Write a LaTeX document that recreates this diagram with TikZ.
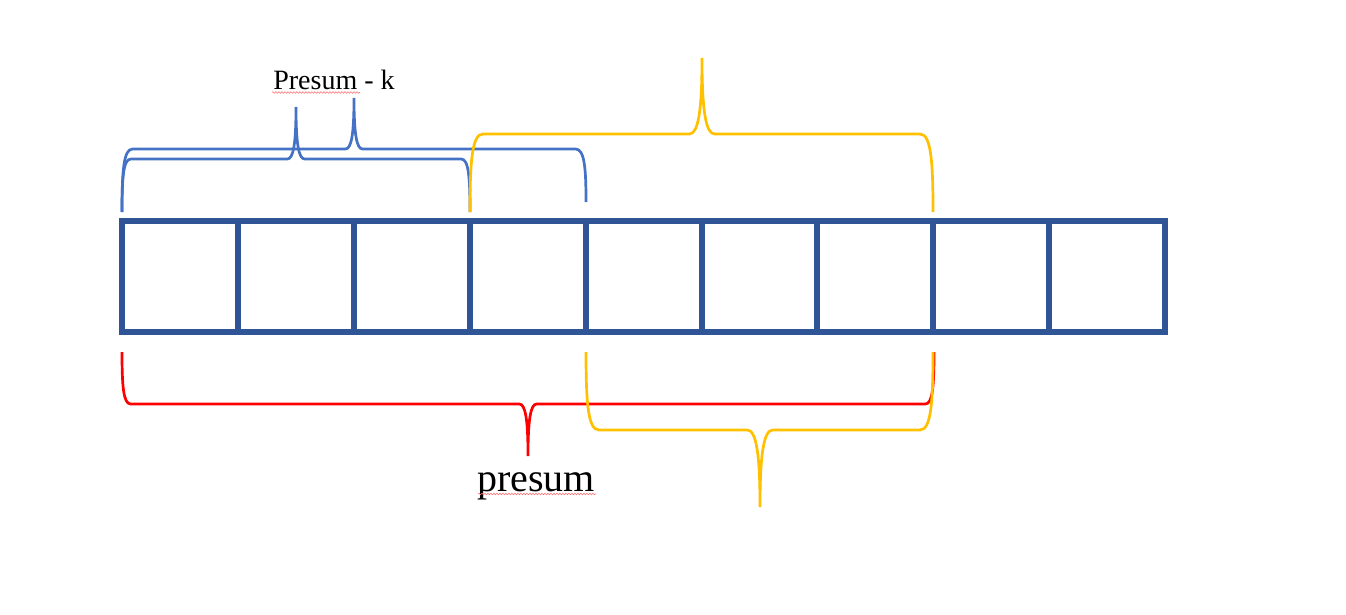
\documentclass[tikz,border=0pt]{standalone}
\usepackage{fontspec}
\setmainfont{Liberation Serif}
\usetikzlibrary{decorations.pathmorphing}
\definecolor{cellblue}{HTML}{2F5597}
\definecolor{braceblue}{HTML}{4472C4}
\definecolor{braceyellow}{HTML}{FFC000}
\definecolor{bracered}{HTML}{FF0000}
\tikzset{
  cell/.style={draw=cellblue, line width=6pt, minimum width=115.9pt, minimum height=111pt, inner sep=0pt, outer sep=0pt},
  bracestroke/.style={line width=2.7pt},
  squiggle/.style={draw=red!55, line width=0.6pt, decorate, decoration={snake, amplitude=0.8pt, segment length=3pt}}
}
% #1 colour, #2 left x, #3 left end y, #4 right x, #5 right end y, #6 tip x, #7 line y, #8 tip y
\newcommand{\curlybrace}[8]{%
  \pgfmathsetmacro{\er}{abs(#7-#3)/6}
  \pgfmathsetmacro{\tr}{abs(#8-#7)/6}
  \draw[bracestroke, #1] (#2,#3) .. controls (#2,{#3+0.65*(#7-#3)}) and ({#2+0.15*\er},#7) .. ({#2+\er},#7)
    -- ({#6-\tr},#7) .. controls ({#6-0.3*\tr},#7) and (#6,{#7+0.3*(#8-#7)}) .. (#6,#8)
    .. controls (#6,{#7+0.3*(#8-#7)}) and ({#6+0.3*\tr},#7) .. ({#6+\tr},#7)
    -- ({#4-\er},#7) .. controls ({#4-0.15*\er},#7) and (#4,{#5+0.65*(#7-#5)}) .. (#4,#5);
}
\begin{document}
\begin{tikzpicture}[x=1pt,y=-1pt]
  \useasboundingbox (0,0) rectangle (1346,615);
  % braces above the array
  \curlybrace{braceblue}{122}{212}{470}{212}{296}{159}{107}
  \curlybrace{braceblue}{122}{212}{586}{202}{354}{149}{98}
  \curlybrace{braceyellow}{470}{212}{933}{212}{702}{134}{58}
  % braces below the array
  \curlybrace{bracered}{122}{352}{934}{352}{528}{404}{456}
  \curlybrace{braceyellow}{586}{352}{933}{352}{760}{430}{507}
  % the array
  \foreach \i in {1,...,9}
    \node[cell] (c\i) at ({122+115.9*(\i-0.5)},276.5) {};
  % labels
  \node[font=\fontsize{28}{30}\selectfont, anchor=base, inner sep=0pt] (presumk) at (334,90) {Presum - k};
  \node[font=\fontsize{40}{44}\selectfont, anchor=base, inner sep=0pt] (presum) at (536,491) {presum};
  \draw[squiggle] (272,92.5) -- (360,92.5);
  \draw[squiggle] (478,494) -- (596,494);
\end{tikzpicture}
\end{document}
